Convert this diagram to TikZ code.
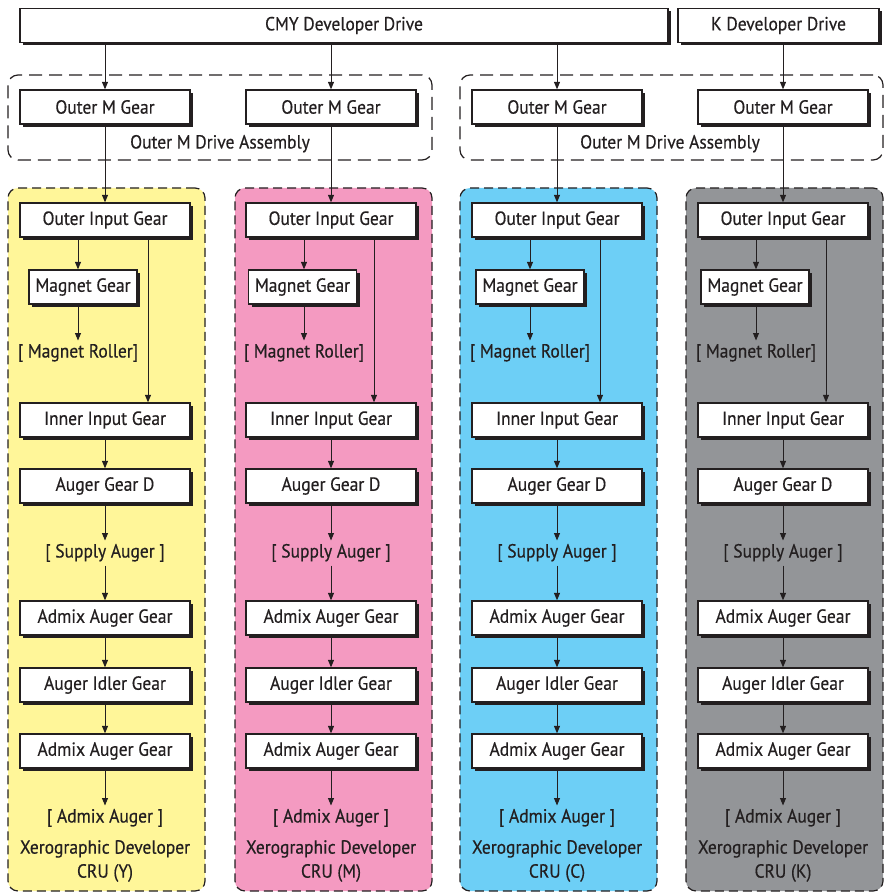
\documentclass[tikz,border=0pt]{standalone}
\usepackage{fontspec}
\setmainfont{PT Sans}[FakeStretch=0.92,FakeBold=0.4]
\usetikzlibrary{arrows.meta,shadows}
\definecolor{txt}{HTML}{231F20}
\definecolor{cy}{HTML}{FFF699}
\definecolor{cm}{HTML}{F49AC1}
\definecolor{cc}{HTML}{6DCFF6}
\definecolor{ck}{HTML}{939598}
\newcommand{\fs}{\fontsize{19}{24}\selectfont}
\begin{document}
\begin{tikzpicture}[x=1pt,y=-1pt,
  gbox/.style={draw=txt, fill=white, line width=1.3pt, minimum height=34pt,
    inner sep=0pt, text=txt, font=\fs,
    drop shadow={shadow xshift=3pt, shadow yshift=-3pt, fill=txt, opacity=1}},
  lbl/.style={inner sep=0pt, outer sep=2pt, text height=15pt, text depth=6pt, text=txt, font=\fs},
  arr/.style={-{Triangle[length=7.5pt,width=6pt]}, line width=1pt, draw=txt},
  panel/.style={draw=txt, line width=1.2pt, dash pattern=on 9pt off 5pt, rounded corners=10pt,
    minimum width=197pt, minimum height=703pt, inner sep=0pt},
  asm/.style={draw=txt, line width=1.2pt, dash pattern=on 13pt off 7pt, rounded corners=10pt,
    minimum width=424pt, minimum height=85pt, inner sep=0pt}
]
\useasboundingbox (0,0) rectangle (886,893);
% panels
\node[panel, fill=cy] (p1) at (106.5,539.5) {};
\node[panel, fill=cm] (p2) at (333.5,539.5) {};
\node[panel, fill=cc] (p3) at (558.5,539.5) {};
\node[panel, fill=ck] (p4) at (784.5,539.5) {};
% assemblies
\node[asm] (as1) at (220,117.5) {};
\node[asm, minimum width=423pt] (as2) at (671.5,117.5) {};
\node[lbl] (as1l) at (220,144) {Outer M Drive Assembly};
\node[lbl] (as2l) at (670,144) {Outer M Drive Assembly};
% drives
\node[gbox, minimum width=648pt] (cmy) at (344,25.5) {CMY Developer Drive};
\node[gbox, minimum width=201pt] (kd) at (778.5,25.5) {K Developer Drive};
% columns
\foreach \i/\c/\mg/\a/\col in {1/105/83/78/Y, 2/331/302.5/304/M, 3/557/530/530/C, 4/783/755/756/K}{
  \coordinate (ta\i) at (\a,0);
  \coordinate (tl\i) at (\c+43,0);
  \node[gbox, minimum width=170pt] (om\i) at (\c,107) {Outer M Gear};
  \node[gbox, minimum width=170pt] (oi\i) at (\c,220) {Outer Input Gear};
  \node[gbox, minimum width=108pt] (mg\i) at (\mg,287) {Magnet Gear};
  \node[lbl] (mr\i) at (\a,353) {[ Magnet Roller]};
  \node[gbox, minimum width=170pt] (ii\i) at (\c,420) {Inner Input Gear};
  \node[gbox, minimum width=170pt] (gd\i) at (\c,486) {Auger Gear D};
  \node[lbl] (sa\i) at (\c,553) {[ Supply Auger ]};
  \node[gbox, minimum width=170pt] (ag\i) at (\c,618) {Admix Auger Gear};
  \node[gbox, minimum width=170pt] (ig\i) at (\c,685) {Auger Idler Gear};
  \node[gbox, minimum width=170pt] (ah\i) at (\c,751) {Admix Auger Gear};
  \node[lbl] (aa\i) at (\c,818) {[ Admix Auger ]};
  \node[inner sep=0pt, text=txt, font=\fs, align=center] (xd\i) at (\c,861) {Xerographic Developer\\CRU (\col)};
  \draw[arr] (om\i.south) -- (oi\i.north);
  \draw[arr] (oi\i.south -| ta\i) -- (mg\i.north -| ta\i);
  \draw[arr] (mg\i.south -| ta\i) -- (mr\i.north);
  \draw[arr] (oi\i.south -| tl\i) -- (ii\i.north -| tl\i);
  \draw[arr] (ii\i) -- (gd\i);
  \draw[arr] (gd\i) -- (sa\i);
  \draw[arr] (sa\i) -- (ag\i);
  \draw[arr] (ag\i) -- (ig\i);
  \draw[arr] (ig\i) -- (ah\i);
  \draw[arr] (ah\i) -- (aa\i);
}
\draw[arr] (cmy.south -| om1.north) -- (om1.north);
\draw[arr] (cmy.south -| om2.north) -- (om2.north);
\draw[arr] (cmy.south -| om3.north) -- (om3.north);
\draw[arr] (kd.south -| om4.north) -- (om4.north);
\end{tikzpicture}
\end{document}
